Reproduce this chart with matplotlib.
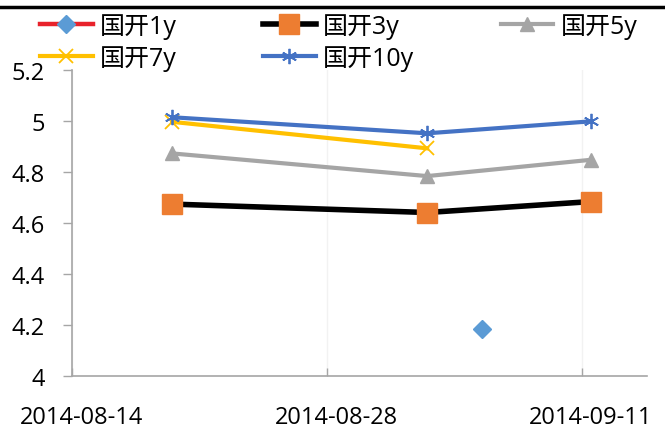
import matplotlib
matplotlib.use("Agg")
import matplotlib.pyplot as plt
import matplotlib.dates as mdates
import numpy as np
from matplotlib.lines import Line2D

plt.rcParams['font.family'] = ['Open Sans', 'Noto Sans CJK SC', 'DejaVu Sans']

# ===== Data =====
dates_1y = ["2014-09-05"]
dates_main = ["2014-08-19", "2014-09-02", "2014-09-11"]
dates_7y = ["2014-08-19", "2014-09-02"]

gk_1y = [4.186]
gk_3y = [4.675, 4.642, 4.685]
gk_5y = [4.874, 4.785, 4.849]
gk_7y = [4.998, 4.894]
gk_10y = [5.016, 4.953, 5.000]

tick_dates = ["2014-08-14", "2014-08-28", "2014-09-11"]
y_ticks = [4.0, 4.2, 4.4, 4.6, 4.8, 5.0, 5.2]
y_labels = ["4", "4.2", "4.4", "4.6", "4.8", "5", "5.2"]

labels = ["国开1y", "国开3y", "国开5y", "国开7y", "国开10y"]


def to_num(ds):
    # Excel date axis puts each point in the middle of its day
    return mdates.datestr2num(ds) + 0.5


fig = plt.figure(figsize=(6.65, 4.31), dpi=100)
ax = fig.add_axes([72 / 665, 1 - 377 / 431, 575 / 665, (377 - 71.4) / 431])

h1, = ax.plot(to_num(dates_1y), gk_1y, color="#E8222B", lw=3.2, marker="D", ms=9.5,
              mfc="#5B9BD5", mec="#5B9BD5", label=labels[0])
h3, = ax.plot(to_num(dates_main), gk_3y, color="black", lw=4, marker="s", ms=14,
              mfc="#ED7D31", mec="#ED7D31", label=labels[1])
h5, = ax.plot(to_num(dates_main), gk_5y, color="#A5A5A5", lw=3, marker="^", ms=10,
              mfc="#A5A5A5", mec="#A5A5A5", label=labels[2])
h7, = ax.plot(to_num(dates_7y), gk_7y, color="#FFC000", lw=3, marker="x", ms=10,
              mew=1.3, mec="#FFC000", label=labels[3])
h10, = ax.plot(to_num(dates_main), gk_10y, color="#4472C4", lw=3, marker=(6, 2, 0), ms=11,
               mew=1.3, mec="#4472C4", label=labels[4])

x0 = mdates.datestr2num(tick_dates[0])
ax.set_xlim(x0, x0 + 31.57)
ax.set_ylim(4.0, 5.2)

ticks = mdates.datestr2num(tick_dates)
ax.set_xticks(ticks)
ax.set_xticklabels([])
ax.set_xticks(ticks + 0.5, minor=True)
ax.set_xticklabels(tick_dates, minor=True)
ax.tick_params(axis="x", which="major", direction="in", length=6, width=1, color="#A6A6A6")
ax.tick_params(axis="x", which="minor", length=0, pad=21, labelsize=17)
ax.xaxis.grid(True, which="major", color="#F2F2F2", lw=1)

ax.set_yticks(y_ticks)
ax.set_yticklabels(y_labels)
ax.tick_params(axis="y", direction="out", length=6.5, width=1, color="#A6A6A6", pad=13, labelsize=17)

for side in ["top", "right"]:
    ax.spines[side].set_visible(False)
for side in ["left", "bottom"]:
    ax.spines[side].set_color("#A6A6A6")
    ax.spines[side].set_linewidth(1.2)

fig.add_artist(Line2D([0, 1], [1 - 7.5 / 431, 1 - 7.5 / 431], color="black", lw=2.5,
                      transform=fig.transFigure))

# legend fills column-first, so order the handles to read row by row
fig.legend([h1, h7, h3, h10, h5],
           [labels[0], labels[3], labels[1], labels[4], labels[2]],
           loc="upper left", bbox_to_anchor=(40 / 665, 1 - 14 / 431), ncol=3,
           frameon=False, fontsize=18, borderpad=0, borderaxespad=0,
           handlelength=2.1, handletextpad=0.3, columnspacing=3.45,
           labelspacing=0.25)

fig.savefig("out.png", dpi=100)
